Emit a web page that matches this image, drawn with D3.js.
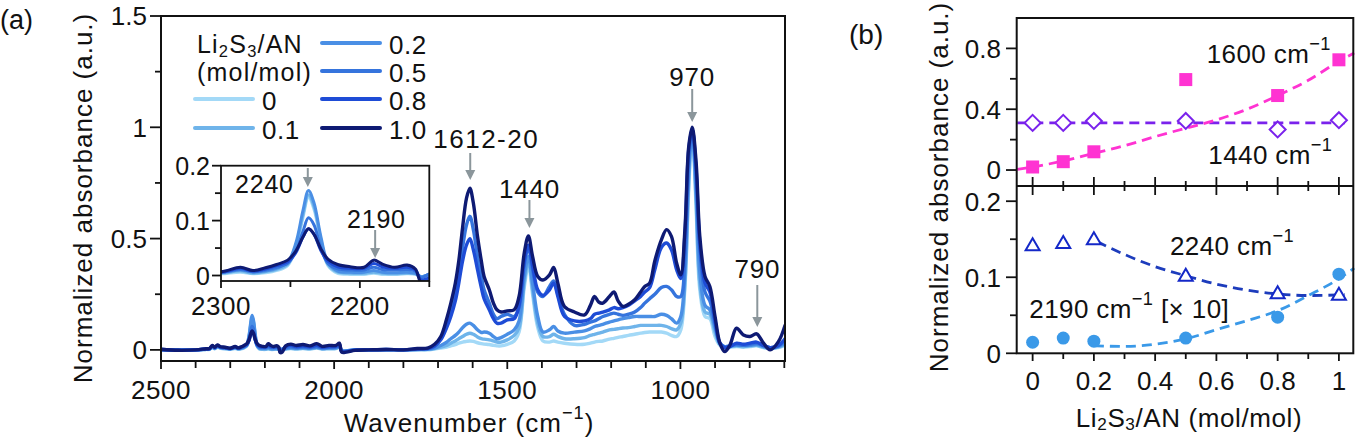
<!DOCTYPE html>
<html><head><meta charset="utf-8">
<script src="https://cdn.jsdelivr.net/npm/d3@7"></script>
<style>
body{margin:0;background:#fff}
svg{display:block}
text{font-family:"Liberation Sans",Arial,sans-serif;fill:#111}
</style>
</head><body>
<svg id="c" width="1359" height="442"></svg>
<script>
// ---------------- DATA: panel (a) spectra ----------------
const wavenumbers = [
 2500,2450,2400,2370,2360,2352,2345,2337,2328,2315,
 2300,2286,2277,2268,2260,2252,2246,2241,2237,2233,
 2228,2223,2216,2207,2197,2190,2184,2175,2166,2160,
 2156,2150,2140,2125,2110,2090,2070,2050,2035,2015,
 1995,1985,1978,1965,1940,1900,1850,1800,1760,1730,
 1710,1692,1675,1663,1650,1640,1629,1618,1608,1598,
 1586,1575,1567,1552,1540,1530,1518,1500,1480,1466,
 1451,1439,1427,1412,1397,1378,1366,1354,1335,1306,
 1277,1260,1248,1236,1224,1205,1192,1180,1166,1150,
 1132,1115,1103,1089,1074,1055,1040,1026,1011,999,
 987,976,966,955,944,929,915,900,886,872,
 857,838,818,799,780,760,741,717,698];

const absorb_0 = [
 0.0,0.0,0.0,0.002,0.002,0.01,0.005,0.012,0.007,0.005,
 0.003,0.006,0.003,0.005,0.009,0.018,0.05,0.105,0.142,0.12,
 0.06,0.018,0.004,0.002,0.002,0.004,0.002,0.002,0.003,0.002,
 -0.002,0.002,0.004,0.006,0.004,0.006,0.004,0.008,0.004,0.005,
 0.006,0.012,-0.004,-0.004,0.0,0.0,0.0,0.0,0.0,0.0,
 0.004,0.008,0.013,0.018,0.024,0.03,0.035,0.038,0.04,0.038,
 0.032,0.028,0.026,0.024,0.02,0.018,0.018,0.025,0.04,0.08,
 0.28,0.38,0.25,0.10,0.04,0.035,0.04,0.035,0.03,0.025,
 0.025,0.03,0.035,0.038,0.04,0.048,0.052,0.056,0.06,0.065,
 0.07,0.075,0.078,0.08,0.08,0.08,0.075,0.065,0.06,0.09,
 0.28,0.72,0.99,0.65,0.27,0.15,0.14,0.06,0.02,0.008,
 0.012,0.015,0.012,0.015,0.018,0.01,0.006,0.01,0.02];

const absorb_01 = [
 0.0,0.0,0.0,0.002,0.003,0.012,0.006,0.014,0.008,0.006,
 0.004,0.008,0.004,0.007,0.011,0.02,0.055,0.11,0.147,0.125,
 0.065,0.02,0.006,0.004,0.004,0.006,0.004,0.003,0.004,0.003,
 -0.002,0.002,0.005,0.007,0.005,0.007,0.005,0.009,0.005,0.006,
 0.007,0.013,-0.004,-0.004,0.0,0.0,0.0,0.0,0.001,0.002,
 0.006,0.012,0.02,0.03,0.04,0.05,0.06,0.07,0.075,0.07,
 0.058,0.05,0.048,0.045,0.04,0.035,0.035,0.045,0.065,0.1,
 0.30,0.40,0.27,0.12,0.06,0.06,0.07,0.06,0.05,0.05,
 0.055,0.065,0.07,0.075,0.08,0.09,0.092,0.095,0.098,0.1,
 0.105,0.11,0.11,0.11,0.11,0.11,0.105,0.095,0.09,0.12,
 0.30,0.75,0.99,0.68,0.30,0.17,0.16,0.08,0.025,0.01,
 0.015,0.018,0.015,0.018,0.02,0.012,0.008,0.012,0.025];

const absorb_02 = [
 0.0,0.0,0.0,0.003,0.004,0.014,0.007,0.016,0.01,0.008,
 0.005,0.01,0.006,0.008,0.013,0.024,0.06,0.118,0.155,0.132,
 0.07,0.024,0.008,0.006,0.006,0.009,0.006,0.005,0.006,0.004,
 -0.002,0.002,0.006,0.009,0.007,0.009,0.007,0.011,0.006,0.008,
 0.009,0.015,-0.004,-0.005,0.0,0.0,0.0,0.0,0.002,0.003,
 0.008,0.02,0.035,0.05,0.065,0.08,0.1,0.115,0.12,0.11,
 0.09,0.078,0.08,0.075,0.06,0.05,0.055,0.07,0.09,0.13,
 0.33,0.42,0.30,0.15,0.08,0.09,0.105,0.085,0.075,0.08,
 0.085,0.095,0.105,0.11,0.115,0.125,0.13,0.135,0.14,0.145,
 0.15,0.15,0.15,0.15,0.15,0.16,0.155,0.14,0.12,0.15,
 0.35,0.80,0.99,0.72,0.35,0.20,0.18,0.10,0.03,0.015,
 0.018,0.02,0.02,0.02,0.025,0.015,0.01,0.015,0.03];

const absorb_05 = [
 0.002,-0.001,0.0,0.003,0.004,0.016,0.008,0.018,0.011,0.009,
 0.006,0.011,0.007,0.01,0.015,0.022,0.045,0.08,0.105,0.092,
 0.05,0.022,0.012,0.01,0.01,0.015,0.011,0.01,0.011,0.008,
 -0.004,0.003,0.01,0.014,0.01,0.013,0.01,0.015,0.009,0.011,
 0.012,0.02,-0.006,-0.006,0.0,0.0,0.002,0.0,0.003,0.005,
 0.015,0.05,0.11,0.17,0.25,0.34,0.46,0.56,0.60,0.54,
 0.42,0.33,0.27,0.21,0.16,0.14,0.15,0.16,0.15,0.19,
 0.38,0.46,0.36,0.26,0.24,0.285,0.31,0.25,0.16,0.11,
 0.115,0.125,0.13,0.14,0.15,0.16,0.165,0.16,0.155,0.16,
 0.17,0.19,0.21,0.23,0.25,0.28,0.285,0.27,0.24,0.24,
 0.42,0.85,0.99,0.80,0.45,0.26,0.22,0.12,0.03,0.012,
 0.018,0.025,0.02,0.025,0.03,0.02,0.01,0.018,0.04];

const absorb_08 = [
 0.002,-0.001,0.0,0.004,0.005,0.018,0.01,0.02,0.012,0.01,
 0.006,0.013,0.008,0.012,0.018,0.025,0.042,0.07,0.085,0.075,
 0.045,0.026,0.016,0.013,0.013,0.022,0.016,0.013,0.015,0.01,
 -0.008,-0.004,0.014,0.02,0.015,0.018,0.014,0.02,0.012,0.015,
 0.016,0.025,-0.008,-0.008,-0.001,0.0,0.002,0.0,0.004,0.006,
 0.018,0.045,0.10,0.15,0.22,0.30,0.40,0.47,0.50,0.45,
 0.36,0.28,0.23,0.18,0.14,0.12,0.12,0.135,0.14,0.20,
 0.40,0.47,0.38,0.27,0.245,0.27,0.30,0.24,0.15,0.13,
 0.13,0.14,0.16,0.165,0.17,0.18,0.19,0.185,0.19,0.20,
 0.22,0.24,0.26,0.28,0.36,0.46,0.48,0.45,0.36,0.32,
 0.52,0.90,0.99,0.82,0.48,0.30,0.26,0.13,0.03,0.01,
 0.015,0.03,0.025,0.03,0.035,0.02,0.01,0.02,0.05];

const absorb_10 = [
 0.003,-0.002,0.0,0.005,0.006,0.02,0.012,0.022,0.014,0.012,
 0.007,0.015,0.009,0.014,0.02,0.028,0.045,0.07,0.085,0.075,
 0.048,0.03,0.02,0.016,0.015,0.028,0.021,0.015,0.019,0.012,
 -0.012,-0.01,0.018,0.026,0.02,0.024,0.018,0.028,0.016,0.02,
 0.02,0.03,-0.01,-0.01,-0.002,0.0,0.002,0.0,0.006,0.008,
 0.025,0.06,0.14,0.21,0.30,0.40,0.55,0.68,0.726,0.66,
 0.51,0.40,0.33,0.27,0.21,0.18,0.17,0.175,0.18,0.24,
 0.435,0.512,0.42,0.33,0.314,0.337,0.37,0.30,0.195,0.17,
 0.157,0.20,0.24,0.215,0.21,0.24,0.26,0.22,0.195,0.205,
 0.225,0.26,0.285,0.30,0.40,0.494,0.54,0.51,0.39,0.337,
 0.54,0.913,1.0,0.85,0.51,0.33,0.285,0.15,0.03,-0.008,
 0.022,0.097,0.067,0.06,0.072,0.03,0.0,0.037,0.11];

const seriesNames = ["0","0.1","0.2","0.5","0.8","1.0"];
const seriesColors = ["#a3d9f7","#6fb4ea","#4a8fe5","#3574dd","#1e4cd6","#0e1a73"];

const mainXMajor = [2500,2000,1500,1000];
const mainXMinor = [2400,2300,2200,2100,1900,1800,1700,1600,1400,1300,1200,1100,900,800,700];
const mainYMajor = [0,0.5,1,1.5];
const mainYMajorLabels = ["0","0.5","1","1.5"];
const mainYMinor = [0.25,0.75,1.25];

const insetXMajor = [2300,2200];
const insetXMinor = [2250,2150];
const insetYMajor = [0,0.1,0.2];
const insetYMajorLabels = ["0","0.1","0.2"];
const insetYMinor = [0.05,0.15];

const peakLabels = ["1612-20","1440","970","790"];
const peakPositions = [1607,1436,966,778];

// ---------------- DATA: panel (b) ----------------
const ratios = [0,0.1,0.2,0.5,0.8,1.0];
const abs1600 = [0.02,0.055,0.12,0.595,0.49,0.725];
const abs1440 = [0.31,0.31,0.323,0.323,0.267,0.328];
const abs2240 = [0.142,0.145,0.15,0.102,0.079,0.077];
const abs2190 = [0.0145,0.02,0.016,0.02,0.0475,0.104];

const fit1600X = [-0.05,0,0.1,0.2,0.3,0.4,0.5,0.6,0.7,0.8,0.9,1.0,1.05];
const fit1600Y = [0.005,0.02,0.06,0.11,0.16,0.22,0.275,0.33,0.40,0.49,0.59,0.715,0.77];
const fit1440X = [-0.05,1.02];
const fit1440Y = [0.31,0.31];
const fit2240X = [0.21,0.3,0.4,0.5,0.6,0.7,0.8,0.9,1.02];
const fit2240Y = [0.147,0.13,0.114,0.102,0.091,0.083,0.078,0.076,0.077];
const fit2190X = [0.2,0.3,0.4,0.5,0.6,0.7,0.8,0.9,1.0,1.05];
const fit2190Y = [0.01,0.009,0.012,0.019,0.031,0.043,0.056,0.076,0.098,0.112];

const bXMajor = [0,0.2,0.4,0.6,0.8,1];
const bXMajorLabels = ["0","0.2","0.4","0.6","0.8","1"];
const bXMinor = [0.1,0.3,0.5,0.7,0.9];
const bTopMajor = [0,0.4,0.8];
const bTopMajorLabels = ["0","0.4","0.8"];
const bTopMinor = [0.2,0.6];
const bBotMajor = [0,0.1,0.2];
const bBotMajorLabels = ["0","0.1","0.2"];
const bBotMinor = [0.05,0.15];

// ---------------- DRAWING ----------------
const svg = d3.select("#c");
const defs = svg.append("defs");
const FS = 26;

function richText(g, x, y, parts, size, anchor, spacing){
  const t = g.append("text").attr("x",x).attr("y",y)
    .attr("font-size",size).attr("text-anchor",anchor||"start");
  if (spacing) t.attr("letter-spacing",spacing);
  let shift = 0;
  parts.forEach(p=>{
    const ts = t.append("tspan").text(p.t);
    let target = 0;
    if (p.sup) { ts.attr("font-size",size*0.7); target = -0.5*size; }
    else if (p.sub) { ts.attr("font-size",size*0.66); target = 0.14*size; }
    if (target !== shift) { ts.attr("dy", target - shift); shift = target; }
  });
  return t;
}

function arrow(g, x, y1, y2){
  const c = "#8b969b";
  g.append("line").attr("x1",x).attr("x2",x).attr("y1",y1).attr("y2",y2-8)
    .attr("stroke",c).attr("stroke-width",2);
  g.append("path").attr("d",`M${x-5},${y2-10}L${x+5},${y2-10}L${x},${y2}Z`).attr("fill",c);
}

// ===== Panel (a) =====
const xMain = d3.scaleLinear().domain([2500,698]).range([161,785]);
const yMain = d3.scaleLinear().domain([-0.05,1.5]).range([361,16]);
const ga = svg.append("g");

defs.append("clipPath").attr("id","clipMain").append("rect")
  .attr("x",161).attr("y",16).attr("width",624).attr("height",345);

const seriesData = [absorb_0,absorb_01,absorb_02,absorb_05,absorb_08,absorb_10];
const mainLine = d3.line()
  .x(d=>xMain(d[0])).y(d=>yMain(d[1])).curve(d3.curveCatmullRom.alpha(0.5));
const gl = ga.append("g").attr("clip-path","url(#clipMain)");
seriesData.forEach((arr,k)=>{
  const pts = wavenumbers.map((w,i)=>[w,arr[i]]);
  gl.append("path").attr("d",mainLine(pts)).attr("fill","none")
    .attr("stroke",seriesColors[k]).attr("stroke-width",3.4)
    .attr("stroke-linejoin","round").attr("stroke-linecap","round");
});

ga.append("rect").attr("x",161).attr("y",16).attr("width",624).attr("height",345)
  .attr("fill","none").attr("stroke","#111").attr("stroke-width",2);
mainXMajor.forEach(v=>{
  ga.append("line").attr("x1",xMain(v)).attr("x2",xMain(v)).attr("y1",361).attr("y2",369)
    .attr("stroke","#111").attr("stroke-width",1.8);
  ga.append("text").attr("x",xMain(v)).attr("y",399).attr("text-anchor","middle")
    .attr("font-size",FS).attr("letter-spacing",0.5).text(v);
});
mainXMinor.forEach(v=>{
  ga.append("line").attr("x1",xMain(v)).attr("x2",xMain(v)).attr("y1",361).attr("y2",368)
    .attr("stroke","#111").attr("stroke-width",1.8);
});
mainYMajor.forEach((v,i)=>{
  ga.append("line").attr("x1",150).attr("x2",161).attr("y1",yMain(v)).attr("y2",yMain(v))
    .attr("stroke","#111").attr("stroke-width",1.8);
  ga.append("text").attr("x",147).attr("y",yMain(v)+9.3).attr("text-anchor","end")
    .attr("font-size",FS).text(mainYMajorLabels[i]);
});
mainYMinor.forEach(v=>{
  ga.append("line").attr("x1",155).attr("x2",161).attr("y1",yMain(v)).attr("y2",yMain(v))
    .attr("stroke","#111").attr("stroke-width",1.8);
});
richText(ga, 469, 432, [{t:"Wavenumber (cm"},{t:"−1",sup:true},{t:")"}], FS, "middle", 1);
ga.append("text").attr("transform","translate(92,198) rotate(-90)")
  .attr("text-anchor","middle").attr("font-size",FS).attr("letter-spacing",1)
  .text("Normalized absorbance (a.u.)");
ga.append("text").attr("x",0).attr("y",29).attr("font-size",27).text("(a)");

// legend
richText(ga, 197, 53, [{t:"Li"},{t:"2",sub:true},{t:"S"},{t:"3",sub:true},{t:"/AN"}], 25, "start", 1.2);
ga.append("text").attr("x",197).attr("y",81).attr("font-size",25).attr("letter-spacing",1.2).text("(mol/mol)");
const legendPos = [[195,99],[195,128],[322,43],[322,71],[322,99],[322,128]];
seriesNames.forEach((n,k)=>{
  const [lx,ly] = legendPos[k];
  ga.append("line").attr("x1",lx).attr("x2",lx+58).attr("y1",ly).attr("y2",ly)
    .attr("stroke",seriesColors[k]).attr("stroke-width",4).attr("stroke-linecap","round");
  ga.append("text").attr("x",lx+67).attr("y",ly+10.5).attr("font-size",FS).attr("letter-spacing",0.5).text(n);
});

// peak annotations
const annY = [[148,153,180],[198,200,228],[86,89,122],[278,285,327]];
peakLabels.forEach((lab,i)=>{
  const x = xMain(peakPositions[i]);
  const tx = i===0 ? x+16 : x;
  ga.append("text").attr("x",tx).attr("y",annY[i][0]).attr("text-anchor","middle")
    .attr("font-size",FS).attr("letter-spacing",i===0?1.5:0.8).text(lab);
  arrow(ga, x, annY[i][1], annY[i][2]);
});

// ===== Inset =====
const xIn = d3.scaleLinear().domain([2300,2150]).range([221,429.3]);
const yIn = d3.scaleLinear().domain([-0.01,0.2]).range([281,165.7]);
const gi = svg.append("g");
gi.append("rect").attr("x",221).attr("y",165.7).attr("width",208.3).attr("height",115.3).attr("fill","#fff");
defs.append("clipPath").attr("id","clipIn").append("rect")
  .attr("x",221).attr("y",165.7).attr("width",208.3).attr("height",115.3);
const inLine = d3.line().x(d=>xIn(d[0])).y(d=>yIn(d[1])).curve(d3.curveCatmullRom.alpha(0.5));
const gil = gi.append("g").attr("clip-path","url(#clipIn)");
seriesData.forEach((arr,k)=>{
  const pts = wavenumbers.map((w,i)=>[w,arr[i]]).filter(d=>d[0]<=2320 && d[0]>=2130);
  gil.append("path").attr("d",inLine(pts)).attr("fill","none")
    .attr("stroke",seriesColors[k]).attr("stroke-width",3)
    .attr("stroke-linejoin","round").attr("stroke-linecap","round");
});
gi.append("rect").attr("x",221).attr("y",165.7).attr("width",208.3).attr("height",115.3)
  .attr("fill","none").attr("stroke","#111").attr("stroke-width",1.8);
insetXMajor.forEach(v=>{
  gi.append("line").attr("x1",xIn(v)).attr("x2",xIn(v)).attr("y1",281).attr("y2",288)
    .attr("stroke","#111").attr("stroke-width",1.8);
  gi.append("text").attr("x",xIn(v)).attr("y",315).attr("text-anchor","middle")
    .attr("font-size",FS).attr("letter-spacing",0.5).text(v);
});
insetXMinor.forEach(v=>{
  gi.append("line").attr("x1",xIn(v)).attr("x2",xIn(v)).attr("y1",281).attr("y2",287)
    .attr("stroke","#111").attr("stroke-width",1.8);
});
insetYMajor.forEach((v,i)=>{
  gi.append("line").attr("x1",212).attr("x2",221).attr("y1",yIn(v)).attr("y2",yIn(v))
    .attr("stroke","#111").attr("stroke-width",1.8);
  gi.append("text").attr("x",210).attr("y",yIn(v)+9).attr("text-anchor","end")
    .attr("font-size",25).text(insetYMajorLabels[i]);
});
insetYMinor.forEach(v=>{
  gi.append("line").attr("x1",215).attr("x2",221).attr("y1",yIn(v)).attr("y2",yIn(v))
    .attr("stroke","#111").attr("stroke-width",1.8);
});
gi.append("text").attr("x",235).attr("y",193).attr("font-size",25).attr("letter-spacing",0.8).text("2240");
arrow(gi, xIn(2237.5), 168, 187);
gi.append("text").attr("x",347).attr("y",228).attr("font-size",25).attr("letter-spacing",0.8).text("2190");
arrow(gi, xIn(2189), 230, 258);

// ===== Panel (b) =====
const xB = d3.scaleLinear().domain([-0.052,1.047]).range([1016.7,1353.3]);
const yTop = d3.scaleLinear().domain([-0.105,1.0]).range([186,18]);
const yBot = d3.scaleLinear().domain([0,0.22]).range([353.3,186]);
const gb = svg.append("g");

const dash = "10,6";
function fitLine(xs, ys, yScale, color){
  const l = d3.line().x(d=>xB(d[0])).y(d=>yScale(d[1])).curve(d3.curveMonotoneX);
  gb.append("path").attr("d",l(xs.map((x,i)=>[x,ys[i]]))).attr("fill","none")
    .attr("stroke",color).attr("stroke-width",2.8).attr("stroke-dasharray",dash);
}
const cPink = "#ff33d2", cPurple = "#7a22ec", cTri = "#1428c8", cTriFit = "#1d3cbc", cCirc = "#3a99e8";

fitLine(fit1440X, fit1440Y, yTop, cPurple);
fitLine(fit1600X, fit1600Y, yTop, cPink);
fitLine(fit2240X, fit2240Y, yBot, cTriFit);
fitLine(fit2190X, fit2190Y, yBot, cCirc);

ratios.forEach((r,i)=>{
  gb.append("path").attr("transform",`translate(${xB(r)},${yTop(abs1440[i])})`)
    .attr("d","M0,-8L8,0L0,8L-8,0Z").attr("fill","#fff").attr("stroke",cPurple).attr("stroke-width",2);
  gb.append("rect").attr("x",xB(r)-6.5).attr("y",yTop(abs1600[i])-6.5)
    .attr("width",13).attr("height",13).attr("fill",cPink);
  gb.append("path").attr("transform",`translate(${xB(r)},${yBot(abs2240[i])})`)
    .attr("d","M0,-7L7,5L-7,5Z").attr("fill","#fff").attr("stroke",cTri).attr("stroke-width",2);
  gb.append("circle").attr("cx",xB(r)).attr("cy",yBot(abs2190[i])).attr("r",6.5).attr("fill",cCirc);
});

gb.append("rect").attr("x",1016.7).attr("y",18).attr("width",336.6).attr("height",335.3)
  .attr("fill","none").attr("stroke","#111").attr("stroke-width",2);
gb.append("line").attr("x1",1016.7).attr("x2",1353.3).attr("y1",186).attr("y2",186)
  .attr("stroke","#111").attr("stroke-width",2);

bXMajor.forEach((v,i)=>{
  gb.append("line").attr("x1",xB(v)).attr("x2",xB(v)).attr("y1",353.3).attr("y2",361)
    .attr("stroke","#111").attr("stroke-width",1.8);
  gb.append("line").attr("x1",xB(v)).attr("x2",xB(v)).attr("y1",177).attr("y2",195)
    .attr("stroke","#111").attr("stroke-width",1.8);
  gb.append("text").attr("x",xB(v)).attr("y",390).attr("text-anchor","middle")
    .attr("font-size",FS).text(bXMajorLabels[i]);
});
bXMinor.forEach(v=>{
  gb.append("line").attr("x1",xB(v)).attr("x2",xB(v)).attr("y1",353.3).attr("y2",359)
    .attr("stroke","#111").attr("stroke-width",1.8);
  gb.append("line").attr("x1",xB(v)).attr("x2",xB(v)).attr("y1",181).attr("y2",191)
    .attr("stroke","#111").attr("stroke-width",1.8);
});
function yTicks(scale, major, labels, minor){
  major.forEach((v,i)=>{
    gb.append("line").attr("x1",1006).attr("x2",1016.7).attr("y1",scale(v)).attr("y2",scale(v))
      .attr("stroke","#111").attr("stroke-width",1.8);
    gb.append("text").attr("x",1001).attr("y",scale(v)+9.3).attr("text-anchor","end")
      .attr("font-size",FS).text(labels[i]);
  });
  minor.forEach(v=>{
    gb.append("line").attr("x1",1010).attr("x2",1016.7).attr("y1",scale(v)).attr("y2",scale(v))
      .attr("stroke","#111").attr("stroke-width",1.8);
  });
}
yTicks(yTop, bTopMajor, bTopMajorLabels, bTopMinor);
yTicks(yBot, bBotMajor, bBotMajorLabels, bBotMinor);

richText(gb, 1206.7, 63, [{t:"1600 cm"},{t:"−1",sup:true}], FS, "start", 0.4);
richText(gb, 1208.3, 164, [{t:"1440 cm"},{t:"−1",sup:true}], FS, "start", 0.4);
richText(gb, 1170, 255, [{t:"2240 cm"},{t:"−1",sup:true}], FS, "start", 0.4);
richText(gb, 1029.3, 318, [{t:"2190 cm"},{t:"−1",sup:true},{t:" [× 10]"}], FS, "start", 0.4);

richText(gb, 1189, 426.5, [{t:"Li"},{t:"2",sub:true},{t:"S"},{t:"3",sub:true},{t:"/AN (mol/mol)"}], FS, "middle", 0.6);
gb.append("text").attr("transform","translate(948,187) rotate(-90)")
  .attr("text-anchor","middle").attr("font-size",FS).attr("letter-spacing",1)
  .text("Normalized absorbance (a.u.)");
gb.append("text").attr("x",849).attr("y",44).attr("font-size",28).text("(b)");
</script>
</body></html>
